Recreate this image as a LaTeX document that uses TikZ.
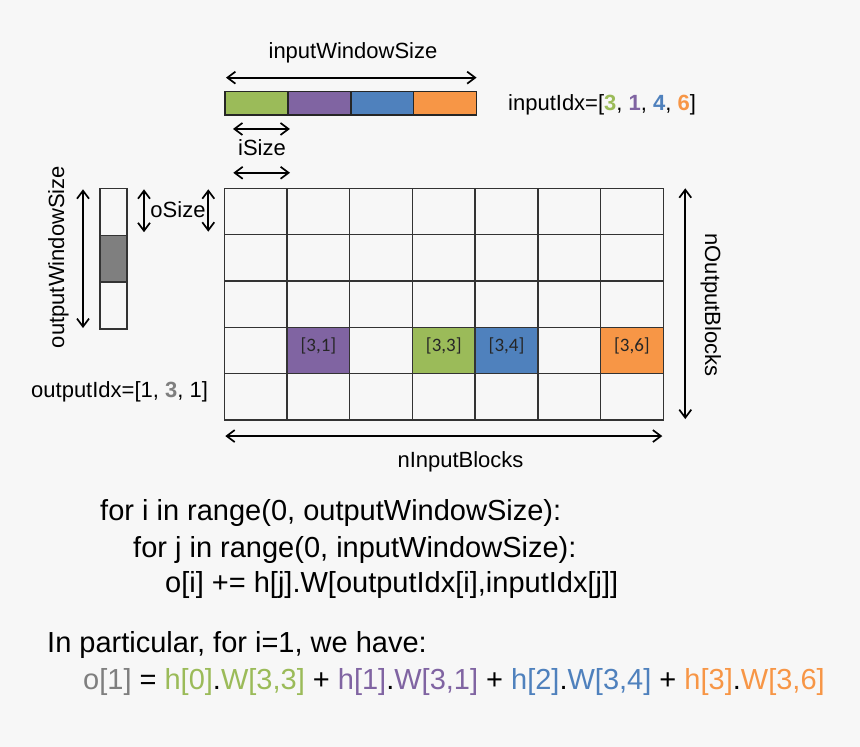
\documentclass[tikz,border=0pt]{standalone}
\usepackage{fontspec}
\setmainfont{Liberation Sans}
\newfontfamily\cellfont{Carlito}
\usepackage{xcolor}
\usepackage{tikz}
\usetikzlibrary{arrows.meta, calc}
\definecolor{bgcol}{RGB}{247,247,247}
\definecolor{ogreen}{RGB}{155,187,89}
\definecolor{opurple}{RGB}{128,100,162}
\definecolor{oblue}{RGB}{79,129,189}
\definecolor{oorange}{RGB}{247,150,70}
\definecolor{ogray}{RGB}{127,127,127}
\tikzset{
  cell/.style={rectangle, draw=black!80, line width=1.4pt, fill=#1,
               minimum width=62.71pt, minimum height=46.35pt,
               inner sep=0pt, outer sep=0pt, text height=9pt, text depth=7pt,
               font=\cellfont\fontsize{19}{22}\selectfont, text=black!85},
  cell/.default=none,
  seg/.style={rectangle, draw=black!85, line width=1.4pt, fill=#1,
              minimum width=62.9pt, minimum height=23.3pt,
              inner sep=0pt, outer sep=0pt},
  ocell/.style={rectangle, draw=black!80, line width=1.4pt, fill=#1,
                minimum width=27pt, minimum height=46.9pt,
                inner sep=0pt, outer sep=0pt},
  ocell/.default=none,
  dim/.style={{Straight Barb[length=8pt,width=12pt]}-{Straight Barb[length=8pt,width=12pt]},
              line width=1.7pt, black},
  lbl/.style={font=\fontsize{22}{26}\selectfont, inner sep=0pt, anchor=base},
  code/.style={font=\fontsize{29}{34}\selectfont, inner sep=0pt, anchor=base west},
}
\begin{document}
\begin{tikzpicture}[x=1pt, y=-1pt]
  \useasboundingbox (0,0) rectangle (860,747);
  \fill[bgcol] (0,0) rectangle (860,747);
  %% Input window
  \foreach \k/\col in {1/ogreen,2/opurple,3/oblue,4/oorange}
    \node[seg=\col] (in\k) at ({225+(\k-0.5)*62.9},103.3) {};
  \node[lbl] (iwsL) at (353,58) {inputWindowSize};
  \node[lbl, anchor=base west] (iidxL) at (508,110)
    {inputIdx=[\textbf{\textcolor{ogreen}{3}}, \textbf{\textcolor{opurple}{1}}, \textbf{\textcolor{oblue}{4}}, \textbf{\textcolor{oorange}{6}}]};
  \node[lbl] (isL) at (262,155) {iSize};
  %% Output window
  \foreach \k/\col in {1/none,2/ogray,3/none}
    \node[ocell=\col] (o\k) at (113.5,{188.3+(\k-0.5)*46.9}) {};
  \node[lbl, rotate=90] (owsL) at (64,257) {outputWindowSize};
  \node[lbl] (osL) at (178,217) {oSize};
  \node[lbl, anchor=base west] (oidxL) at (31,397.7)
    {outputIdx=[1, \textbf{\textcolor{ogray}{3}}, 1]};
  %% Weight blocks
  \foreach \r in {1,2,3,5}
    \foreach \c in {1,...,7}
      \node[cell] (w\r\c) at ({224.3+(\c-0.5)*62.71},{188.3+(\r-0.5)*46.35}) {};
  \foreach \c/\col/\txt in {1/none/{}, 2/opurple/{[3,1]}, 3/none/{}, 4/ogreen/{[3,3]},
                            5/oblue/{[3,4]}, 6/none/{}, 7/oorange/{[3,6]}}
    \node[cell=\col] (w4\c) at ({224.3+(\c-0.5)*62.71},{188.3+3.5*46.35}) {\txt};
  \node[lbl, rotate=-90] (nobL) at (705,305) {nOutputBlocks};
  \node[lbl] (nibL) at (460.5,467.7) {nInputBlocks};
  %% Dimension arrows
  \coordinate (iwA) at ($(in1.north west)+(1,-14)$);
  \coordinate (iwB) at ($(in4.north east)+(0,-14)$);
  \coordinate (isA) at ($(in1.south west)+(8,14)$);
  \coordinate (isB) at ($(in1.south east)+(2,14)$);
  \coordinate (isC) at ($(w11.north west)+(9,-15.5)$);
  \coordinate (isD) at ($(w11.north east)+(3,-15.5)$);
  \coordinate (owA) at ($(o1.north west)+(-17,1)$);
  \coordinate (owB) at ($(o3.south west)+(-17,-1)$);
  \coordinate (osA) at ($(o1.north east)+(17,1)$);
  \coordinate (osB) at ($(o1.south east)+(17,-3)$);
  \coordinate (osC) at ($(w11.north west)+(-16,1)$);
  \coordinate (osD) at ($(w11.south west)+(-16,-3)$);
  \coordinate (nobA) at ($(w17.north east)+(22,0)$);
  \coordinate (nobB) at ($(w57.south east)+(22,-1)$);
  \coordinate (nibA) at ($(w51.south west)+(1,16)$);
  \coordinate (nibB) at ($(w57.south east)+(-1,16)$);
  \foreach \a/\b in {iwA/iwB,isA/isB,isC/isD,owA/owB,osA/osB,osC/osD,nobA/nobB,nibA/nibB}
    \draw[dim] (\a) -- (\b);
  %% Loop code
  \node[code] (fori) at (100,520) {for i in range(0, outputWindowSize):};
  \node[code] (forj) at (133,557) {for j in range(0, inputWindowSize):};
  \node[code] (accum) at (165,592) {o[i] += h[j].W[outputIdx[i],inputIdx[j]]};
  \node[code] (part) at (47,652) {In particular, for i=1, we have:};
  \node[code] (expand) at (83,689)
    {\textcolor{ogray}{o[1]} = \textcolor{ogreen}{h[0]}.\textcolor{ogreen}{W[3,3]}
     + \textcolor{opurple}{h[1]}.\textcolor{opurple}{W[3,1]}
     + \textcolor{oblue}{h[2]}.\textcolor{oblue}{W[3,4]}
     + \textcolor{oorange}{h[3]}.\textcolor{oorange}{W[3,6]}};
\end{tikzpicture}
\end{document}
